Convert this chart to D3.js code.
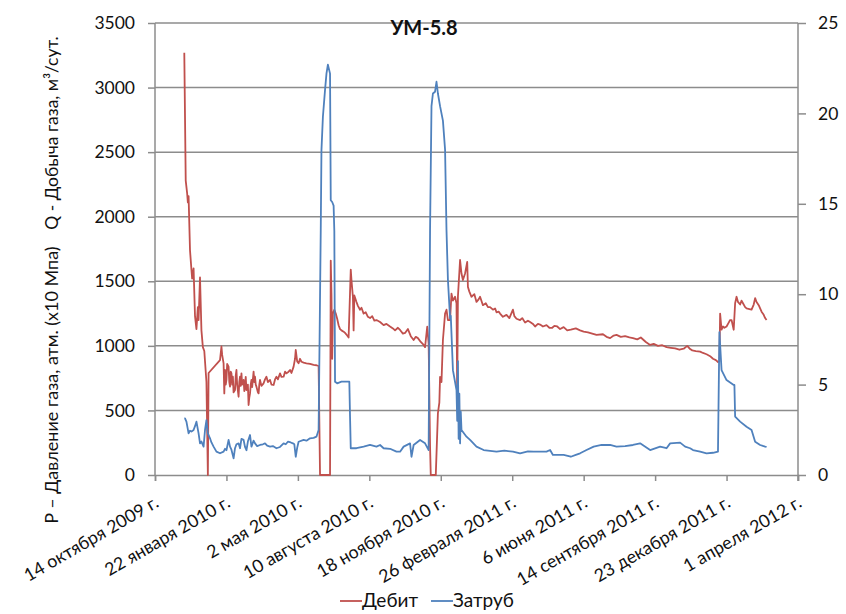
<!DOCTYPE html>
<html>
<head>
<meta charset="utf-8">
<script src="https://cdn.jsdelivr.net/npm/d3@7"></script>
<style>
  body { margin: 0; background: #fff; }
  svg { display: block; }
  text { font-family: Lato, "Open Sans", sans-serif; fill: #111; }
</style>
</head>
<body>
<svg id="chart" width="846" height="614"></svg>
<script>
// ---- data ----
const chartTitle = "УМ-5.8";
const leftAxisTitleQ = "Q - Добыча газа, м³/сут.";
const leftAxisTitleP = "P – Давление газа, атм. (x10 Мпа)";
const leftTicks = [0, 500, 1000, 1500, 2000, 2500, 3000, 3500];
const rightTicks = [0, 5, 10, 15, 20, 25];
const xTickDates = ["2009-10-14", "2010-01-22", "2010-05-02", "2010-08-10", "2010-11-18",
                    "2011-02-26", "2011-06-06", "2011-09-14", "2011-12-23", "2012-04-01"];
const xTickLabels = ["14 октября 2009 г.", "22 января 2010 г.", "2 мая 2010 г.", "10 августа 2010 г.",
                     "18 ноября 2010 г.", "26 февраля 2011 г.", "6 июня 2011 г.", "14 сентября 2011 г.",
                     "23 декабря 2011 г.", "1 апреля 2012 г."];
const seriesNames = ["Дебит", "Затруб"];

// Дебит (left axis)
const debitDates = [
  "2009-11-24","2009-11-26","2009-11-28","2009-11-29","2009-11-30","2009-12-02","2009-12-04","2009-12-05",
  "2009-12-07","2009-12-09","2009-12-11","2009-12-13","2009-12-14","2009-12-16","2009-12-18","2009-12-20",
  "2009-12-22","2009-12-25","2009-12-27","2009-12-28","2010-01-13","2010-01-15","2010-01-16","2010-01-18",
  "2010-01-19","2010-01-20","2010-01-21","2010-01-22","2010-01-23","2010-01-25","2010-01-26","2010-01-27",
  "2010-01-28","2010-01-29","2010-01-30","2010-01-31","2010-02-01","2010-02-03","2010-02-04","2010-02-05",
  "2010-02-06","2010-02-08","2010-02-09","2010-02-10","2010-02-11","2010-02-12","2010-02-13","2010-02-15",
  "2010-02-16","2010-02-17","2010-02-18","2010-02-19","2010-02-21","2010-02-22","2010-02-23","2010-02-24",
  "2010-02-25","2010-02-26","2010-02-27","2010-03-01","2010-03-02","2010-03-03","2010-03-04","2010-03-05",
  "2010-03-07","2010-03-08","2010-03-09","2010-03-10","2010-03-12","2010-03-15","2010-03-17","2010-03-19",
  "2010-03-21","2010-03-24","2010-03-26","2010-03-29","2010-03-31","2010-04-02","2010-04-04","2010-04-07",
  "2010-04-09","2010-04-12","2010-04-14","2010-04-16","2010-04-19","2010-04-21","2010-04-23","2010-04-26",
  "2010-04-28","2010-04-29","2010-05-01","2010-05-03","2010-05-05","2010-05-07","2010-05-10","2010-05-14",
  "2010-05-19","2010-05-24","2010-05-28","2010-05-31","2010-06-02","2010-06-16","2010-06-17","2010-06-18",
  "2010-06-19","2010-06-20","2010-06-22","2010-06-24","2010-06-26","2010-06-28","2010-06-30","2010-07-02",
  "2010-07-05","2010-07-07","2010-07-10","2010-07-12","2010-07-15","2010-07-16","2010-07-18","2010-07-19",
  "2010-07-20","2010-07-23","2010-07-25","2010-07-28","2010-07-30","2010-08-02","2010-08-05","2010-08-08",
  "2010-08-11","2010-08-14","2010-08-17","2010-08-20","2010-08-25","2010-08-30","2010-09-03","2010-09-08",
  "2010-09-12","2010-09-15","2010-09-19","2010-09-22","2010-09-26","2010-09-29","2010-10-03","2010-10-07",
  "2010-10-11","2010-10-14","2010-10-17","2010-10-21","2010-10-25","2010-10-27","2010-10-30","2010-11-01",
  "2010-11-03","2010-11-04","2010-11-11","2010-11-14","2010-11-16","2010-11-17","2010-11-19","2010-11-21",
  "2010-11-24","2010-11-26","2010-11-28","2010-12-01","2010-12-03","2010-12-05","2010-12-08","2010-12-10",
  "2010-12-11","2010-12-12","2010-12-15","2010-12-17","2010-12-19","2010-12-22","2010-12-25","2010-12-26",
  "2010-12-28","2010-12-31","2011-01-04","2011-01-07","2011-01-10","2011-01-12","2011-01-16","2011-01-20",
  "2011-01-23","2011-01-26","2011-01-30","2011-02-02","2011-02-04","2011-02-07","2011-02-09","2011-02-13",
  "2011-02-18","2011-02-22","2011-02-27","2011-03-01","2011-03-04","2011-03-09","2011-03-12","2011-03-16",
  "2011-03-20","2011-03-23","2011-03-27","2011-03-30","2011-04-03","2011-04-06","2011-04-10","2011-04-15",
  "2011-04-19","2011-04-23","2011-04-26","2011-04-30","2011-05-04","2011-05-09","2011-05-14","2011-05-19",
  "2011-05-26","2011-06-01","2011-06-06","2011-06-12","2011-06-18","2011-06-24","2011-07-03","2011-07-08",
  "2011-07-13","2011-07-18","2011-07-22","2011-07-28","2011-08-03","2011-08-09","2011-08-14","2011-08-20",
  "2011-08-25","2011-09-01","2011-09-07","2011-09-12","2011-09-18","2011-09-24","2011-09-30","2011-10-06",
  "2011-10-12","2011-10-18","2011-10-24","2011-10-29","2011-11-02","2011-11-05","2011-11-10","2011-11-16",
  "2011-11-20","2011-11-25","2011-11-30","2011-12-04","2011-12-08","2011-12-11","2011-12-13","2011-12-14",
  "2011-12-16","2011-12-18","2011-12-20","2011-12-23","2011-12-26","2011-12-28","2011-12-30","2012-01-02",
  "2012-01-04","2012-01-06","2012-01-08","2012-01-11","2012-01-13","2012-01-15","2012-01-18","2012-01-20",
  "2012-01-24","2012-01-27","2012-01-30","2012-02-01","2012-02-03","2012-02-06","2012-02-08","2012-02-10",
  "2012-02-13","2012-02-15","2012-02-17"
];
const debitValues = [
  3270,2280,2180,2110,2160,1740,1590,1520,
  1600,1230,1130,1300,1200,1530,1120,990,
  960,720,0,790,890,995,930,865,
  632,813,700,736,860,839,720,684,
  800,787,700,761,640,658,770,813,
  700,606,720,761,690,787,700,736,
  650,684,760,658,700,542,600,632,
  700,736,680,800,720,761,700,684,
  640,632,700,736,690,710,740,761,
  720,736,700,697,740,761,740,787,
  760,761,800,787,800,813,790,839,
  900,968,880,865,900,877,870,865,
  860,852,850,844,0,0,1660,1400,
  900,1250,1280,1250,1210,1160,1130,1120,
  1110,1100,1080,1065,1590,1510,1380,1120,
  1390,1340,1310,1280,1295,1250,1260,1225,
  1215,1230,1195,1200,1185,1160,1170,1150,
  1135,1120,1140,1123,1095,1100,1130,1075,
  1045,1070,1060,1030,1007,990,1148,1020,
  220,0,0,480,560,760,720,1045,
  1250,1280,1200,1200,1405,1350,1380,1330,
  632,1380,1665,1560,1510,1560,1650,1455,
  1420,1380,1400,1340,1360,1380,1315,1330,
  1300,1300,1280,1290,1260,1265,1250,1225,
  1240,1215,1280,1230,1210,1200,1215,1180,
  1195,1185,1170,1150,1170,1165,1150,1160,
  1140,1140,1155,1150,1130,1145,1120,1125,
  1135,1120,1110,1105,1095,1085,1090,1070,
  1060,1080,1085,1070,1075,1065,1060,1050,
  1065,1030,1007,1015,1000,1005,990,985,
  980,970,978,1000,975,965,960,955,
  945,935,920,900,890,875,880,1250,
  1125,1150,1140,1150,1180,1200,1200,1125,
  1330,1380,1340,1320,1350,1330,1300,1290,
  1285,1280,1320,1370,1340,1315,1290,1265,
  1240,1215,1200
];

// Затруб (right axis)
const zatrubDates = [
  "2009-11-24","2009-11-25","2009-11-27","2009-11-30","2009-12-02","2009-12-04","2009-12-07","2009-12-09",
  "2009-12-11","2009-12-14","2009-12-16","2009-12-18","2009-12-21","2009-12-23","2009-12-25","2009-12-27",
  "2009-12-30","2010-01-01","2010-01-04","2010-01-08","2010-01-13","2010-01-18","2010-01-20","2010-01-22",
  "2010-01-25","2010-01-27","2010-01-29","2010-02-01","2010-02-03","2010-02-05","2010-02-08","2010-02-10",
  "2010-02-12","2010-02-15","2010-02-17","2010-02-19","2010-02-21","2010-02-24","2010-02-26","2010-03-01",
  "2010-03-03","2010-03-06","2010-03-10","2010-03-14","2010-03-17","2010-03-20","2010-03-24","2010-03-28",
  "2010-04-02","2010-04-07","2010-04-12","2010-04-15","2010-04-18","2010-04-22","2010-04-25","2010-04-27",
  "2010-04-29","2010-05-01","2010-05-03","2010-05-10","2010-05-14","2010-05-19","2010-05-24","2010-05-28",
  "2010-05-31","2010-06-03","2010-06-04","2010-06-06","2010-06-09","2010-06-11","2010-06-13","2010-06-16",
  "2010-06-17","2010-06-19","2010-06-21","2010-06-22","2010-06-23","2010-06-26","2010-07-02","2010-07-09",
  "2010-07-13","2010-07-14","2010-07-15","2010-07-23","2010-08-02","2010-08-11","2010-08-20","2010-08-25",
  "2010-08-30","2010-09-08","2010-09-17","2010-09-22","2010-09-27","2010-10-06","2010-10-08","2010-10-11",
  "2010-10-20","2010-10-27","2010-11-01","2010-11-03","2010-11-05","2010-11-07","2010-11-10","2010-11-12",
  "2010-11-14","2010-11-17","2010-11-21","2010-11-24","2010-11-26","2010-11-28","2010-12-01","2010-12-02",
  "2010-12-05","2010-12-10","2010-12-11","2010-12-12","2010-12-13","2010-12-14","2010-12-15","2010-12-16",
  "2010-12-17","2010-12-24","2010-12-29","2011-01-07","2011-01-17","2011-02-04","2011-02-15","2011-02-27",
  "2011-03-09","2011-03-20","2011-03-28","2011-04-15","2011-04-20","2011-04-24","2011-05-09","2011-05-19",
  "2011-05-26","2011-06-01","2011-06-10","2011-06-20","2011-07-01","2011-07-13","2011-07-22","2011-08-03",
  "2011-08-14","2011-08-24","2011-09-07","2011-09-21","2011-09-30","2011-10-05","2011-10-19","2011-10-26",
  "2011-11-02","2011-11-06","2011-11-16","2011-11-25","2011-12-04","2011-12-11","2011-12-13","2011-12-16",
  "2011-12-23","2012-01-02","2012-01-03","2012-01-04","2012-01-11","2012-01-20","2012-01-27","2012-02-01",
  "2012-02-08","2012-02-15","2012-02-17"
];
const zatrubValues = [
  3.13,3.13,2.95,2.30,2.45,2.40,2.49,2.70,
  2.95,2.30,1.75,1.85,1.57,2.49,3.04,2.30,
  2.03,1.80,1.57,1.29,1.20,1.29,1.45,1.37,
  1.94,1.57,1.40,0.92,1.48,1.70,1.75,1.48,
  2.00,1.94,1.55,1.37,1.85,2.21,1.57,1.90,
  1.75,1.60,1.66,1.70,1.75,1.62,1.57,1.60,
  1.48,1.55,1.75,1.70,1.84,1.80,1.75,1.70,
  1.01,1.50,1.84,1.94,1.90,2.03,2.05,2.12,
  2.49,13.55,17.97,19.8,21.3,22.2,22.7,22.2,
  15.2,15.1,14.9,13.5,5.16,5.07,5.16,5.16,
  5.16,3.22,1.48,1.48,1.57,1.66,1.57,1.66,
  1.48,1.45,1.29,1.29,1.57,1.75,1.01,1.66,
  1.94,1.75,1.38,13.55,20.4,21.1,21.2,21.75,
  21.1,20.4,19.6,18.0,13.55,10.8,8.67,8.8,
  5.8,4.7,3.0,6.3,2.0,4.5,1.75,3.5,
  2.49,2.12,1.94,1.57,1.38,1.29,1.35,1.29,
  1.20,1.30,1.29,1.29,1.38,1.11,1.11,1.01,
  1.11,1.20,1.38,1.57,1.66,1.66,1.57,1.60,
  1.66,1.75,1.38,1.57,1.48,1.75,1.79,1.57,
  1.48,1.38,1.29,1.20,1.23,1.29,7.9,5.8,
  5.25,4.98,4.98,3.23,2.95,2.67,2.49,1.84,
  1.66,1.57,1.55
];

// ---- layout ----
const svg = d3.select("#chart");
const plot = { left: 155, right: 798, top: 23, bottom: 475 };
const colors = { debit: "#C0504D", zatrub: "#4F81BD", grid: "#8c8c8c", axis: "#8c8c8c" };
const parse = d3.timeParse("%Y-%m-%d");

const x = d3.scaleTime()
  .domain([parse(xTickDates[0]), parse(xTickDates[xTickDates.length - 1])])
  .range([plot.left, plot.right]);
const yL = d3.scaleLinear().domain([0, 3500]).range([plot.bottom, plot.top]);
const yR = d3.scaleLinear().domain([0, 25]).range([plot.bottom, plot.top]);

// horizontal gridlines from the left axis
svg.append("g").selectAll("line").data(leftTicks.slice(1)).join("line")
  .attr("x1", plot.left).attr("x2", plot.right)
  .attr("y1", d => yL(d)).attr("y2", d => yL(d))
  .attr("stroke", colors.grid).attr("stroke-width", 1.5);

// left axis
const gL = svg.append("g").attr("transform", `translate(${plot.left},0)`)
  .call(d3.axisLeft(yL).tickValues(leftTicks).tickFormat(d3.format("d"))
    .tickSize(7).tickPadding(13));
// right axis
const gR = svg.append("g").attr("transform", `translate(${plot.right},0)`)
  .call(d3.axisRight(yR).tickValues(rightTicks).tickFormat(d3.format("d"))
    .tickSize(8).tickPadding(12));
// bottom axis
const xTickParsed = xTickDates.map(parse);
const gB = svg.append("g").attr("transform", `translate(0,${plot.bottom})`)
  .call(d3.axisBottom(x).tickValues(xTickParsed).tickSize(6).tickFormat(""));

[gL, gR, gB].forEach(g => {
  g.select(".domain").attr("stroke", colors.axis).attr("stroke-width", 1.5);
  g.selectAll(".tick line").attr("stroke", colors.axis).attr("stroke-width", 1.5);
  g.selectAll(".tick text").attr("font-size", 17.5).attr("fill", "#111")
    .style("font-family", "Lato, 'Open Sans', sans-serif");
});
gL.select(".domain").attr("d", `M0,${plot.bottom}V${plot.top}`);
gR.select(".domain").attr("d", `M0,${plot.bottom + 6}V${plot.top}`);

// rotated date labels
svg.append("g").selectAll("text").data(xTickParsed).join("text")
  .attr("transform", d => `translate(${x(d) + 5},${plot.bottom + 31}) rotate(-30)`)
  .attr("text-anchor", "end")
  .attr("font-size", 17.8)
  .text((d, i) => xTickLabels[i]);

// series lines
const lineL = d3.line().x(d => x(d[0])).y(d => yL(d[1]));
const lineR = d3.line().x(d => x(d[0])).y(d => yR(d[1]));
const debit = debitDates.map((d, i) => [parse(d), debitValues[i]]);
const zatrub = zatrubDates.map((d, i) => [parse(d), zatrubValues[i]]);

svg.append("path").datum(debit).attr("d", lineL)
  .attr("fill", "none").attr("stroke", colors.debit).attr("stroke-width", 1.8)
  .attr("stroke-linejoin", "round");
svg.append("path").datum(zatrub).attr("d", lineR)
  .attr("fill", "none").attr("stroke", colors.zatrub).attr("stroke-width", 1.8)
  .attr("stroke-linejoin", "round");

// title
svg.append("text").attr("x", 424).attr("y", 35).attr("text-anchor", "middle")
  .attr("font-size", 20).attr("font-weight", "bold").text(chartTitle);

// left axis title (two parts on one rotated line)
svg.append("text").attr("transform", "translate(58,133) rotate(-90)")
  .attr("text-anchor", "middle").attr("font-size", 17.5).text(leftAxisTitleQ);
svg.append("text").attr("transform", "translate(58,385) rotate(-90)")
  .attr("text-anchor", "middle").attr("font-size", 18).text(leftAxisTitleP);

// legend
const legend = [
  { name: seriesNames[0], color: colors.debit, x: 340 },
  { name: seriesNames[1], color: colors.zatrub, x: 431 }
];
const lg = svg.append("g").selectAll("g").data(legend).join("g")
  .attr("transform", d => `translate(${d.x},601)`);
lg.append("line").attr("x1", 0).attr("x2", 22).attr("y1", 0).attr("y2", 0)
  .attr("stroke", d => d.color).attr("stroke-width", 1.8);
lg.append("text").attr("x", 22).attr("y", 6).attr("font-size", 19).text(d => d.name);
</script>
</body>
</html>
